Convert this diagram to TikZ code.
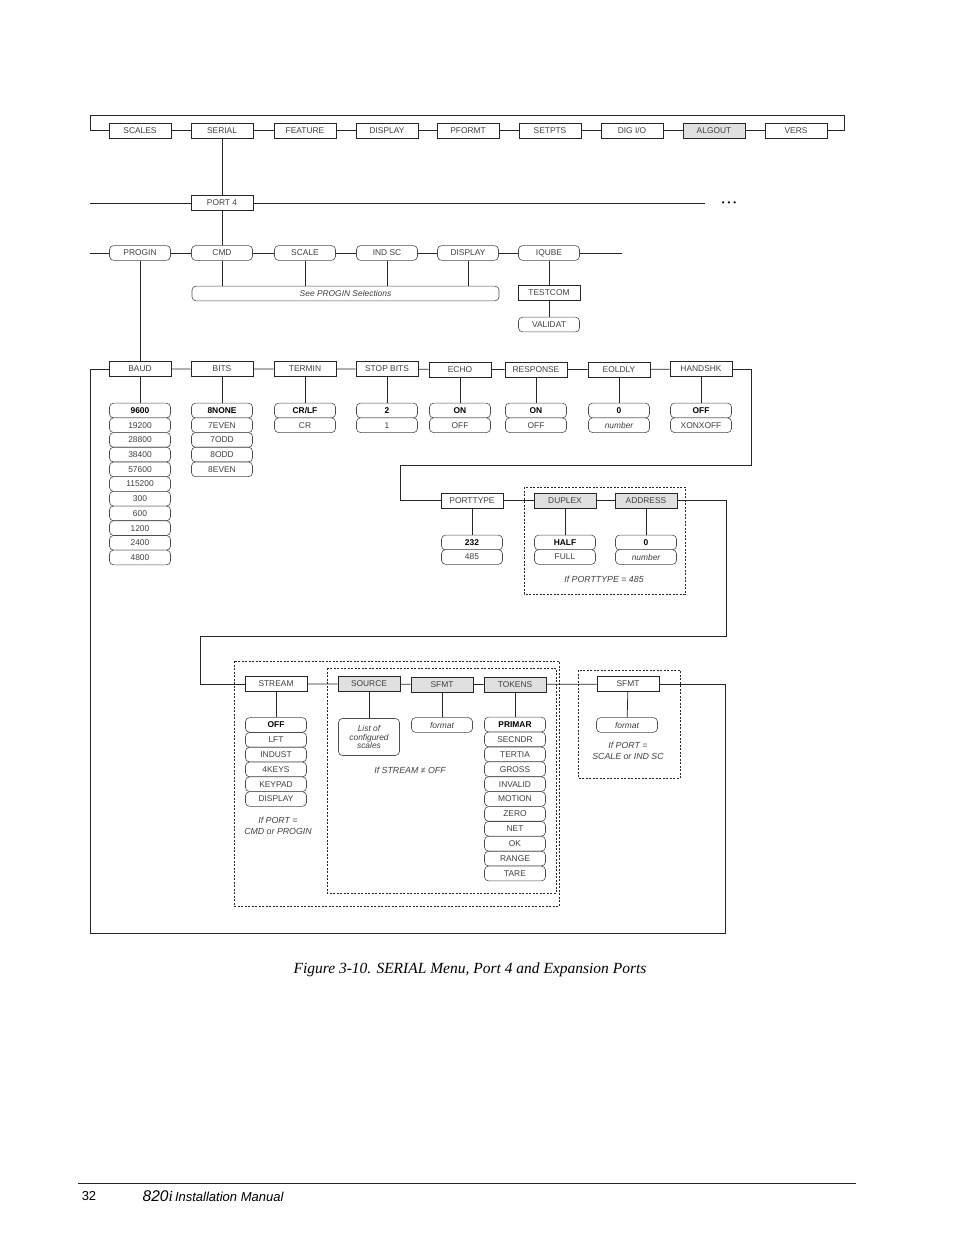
\documentclass[tikz,border=0pt]{standalone}
\usepackage{fontspec}
\setmainfont{Liberation Serif}
\setsansfont{Liberation Sans}
\usetikzlibrary{positioning}

\begin{document}
\begin{tikzpicture}[x=1pt,y=-1pt,
    every node/.style={font=\sffamily\fontsize{8.4}{9}\selectfont, text=black!75},
    menu/.style={draw=black!85, line width=0.75pt, fill=white, minimum width=62pt, minimum height=15pt, inner sep=0pt},
    menug/.style={menu, fill=black!12},
    sel/.style={draw=black!70, line width=0.6pt, fill=white, rounded corners=4pt, minimum width=61pt, minimum height=14.7pt, inner sep=0pt},
    first/.style={sel, font=\sffamily\bfseries\fontsize{8.4}{9}\selectfont, text=black},
    ital/.style={sel, font=\sffamily\itshape\fontsize{8.4}{9}\selectfont},
    note/.style={font=\sffamily\itshape\fontsize{8.8}{11.5}\selectfont, align=center},
    grp/.style={draw=black!85, line width=0.6pt, dash pattern=on 2pt off 1.5pt}]
    \useasboundingbox (0,0) rectangle (954,1235);
    \tikzset{every path/.style={draw=black!85, line width=0.75pt}}

    % Menu principal
    \node[menu] (scales) at (140,130.5) {SCALES};
    \node[menu] (serial) at (222,130.5) {SERIAL};
    \node[menu] (feature) at (305,130.5) {FEATURE};
    \node[menu] (display) at (387,130.5) {DISPLAY};
    \node[menu] (pformt) at (468,130.5) {PFORMT};
    \node[menu] (setpts) at (550,130.5) {SETPTS};
    \node[menu] (digio) at (632,130.5) {DIG I/O};
    \node[menug] (algout) at (714,130.5) {ALGOUT};
    \node[menu] (vers) at (796,130.5) {VERS};
    \coordinate (ftl) at (90,115);
    \coordinate (ftr) at (844,115);
    \draw (scales.west) -| (ftl) -- (ftr) |- (vers.east);
    \draw (scales) -- (serial) -- (feature) -- (display) -- (pformt) -- (setpts) -- (digio) -- (algout) -- (vers);

    % Puertos
    \node[menu] (port4) at (222,203) {PORT 4};
    \coordinate (pl) at (90,203);
    \coordinate (pr) at (705,203);
    \node[text=black] (more) at (729,203.5) {\fontsize{8}{8}\selectfont •\hspace{3pt}•\hspace{3pt}•};
    \draw (serial) -- (port4);
    \draw (pl) -- (port4) -- (pr);

    % Modos del puerto
    \node[sel] (progin) at (140,253) {PROGIN};
    \node[sel] (cmd) at (222,253) {CMD};
    \node[sel] (scale) at (305,253) {SCALE};
    \node[sel] (indsc) at (387,253) {IND SC};
    \node[sel] (dispsel) at (468,253) {DISPLAY};
    \node[sel] (iqube) at (549,253) {IQUBE};
    \node[ital, minimum width=307pt] (see) at (345.5,293.5) {See PROGIN Selections};
    \node[menu] (testcom) at (549,292.5) {TESTCOM};
    \node[sel] (validat) at (549,324.5) {VALIDAT};
    \coordinate (ml) at (90,253);
    \coordinate (mr) at (622,253);
    \draw (port4) -- (cmd);
    \draw (ml) -- (progin) -- (cmd) -- (scale) -- (indsc) -- (dispsel) -- (iqube) -- (mr);
    \foreach \n in {cmd,scale,indsc,dispsel}
        \draw (\n) -- (\n |- see.north);
    \draw (iqube) -- (testcom) -- (validat);

    % Parametros PROGIN
    \node[menu] (baud) at (140,369) {BAUD};
    \node[menu] (bits) at (222,369) {BITS};
    \node[menu] (termin) at (305,369) {TERMIN};
    \node[menu] (stopbits) at (387,369) {STOP BITS};
    \node[menu] (echo) at (460,369.5) {ECHO};
    \node[menu] (response) at (536,369.5) {RESPONSE};
    \node[menu] (eoldly) at (619,369.5) {EOLDLY};
    \node[menu] (handshk) at (701,369) {HANDSHK};
    \draw (progin) -- (baud);
    \draw (baud) -- (bits) -- (termin) -- (stopbits) -- (echo) -- (response) -- (eoldly) -- (handshk);

    % Valores
    \node[first] (baud1) at (140,410.5) {9600};
    \foreach \v [count=\i from 2] in {19200,28800,38400,57600,115200,300,600,1200,2400,4800}
        \node[sel] (baud\i) at (140,395.8+14.7*\i) {\v};
    \node[first] (bits1) at (222,410.5) {8NONE};
    \foreach \v [count=\i from 2] in {7EVEN,7ODD,8ODD,8EVEN}
        \node[sel] (bits\i) at (222,395.8+14.7*\i) {\v};
    \node[first] (termin1) at (305,410.5) {CR/LF};
    \node[sel] (termin2) at (305,425.2) {CR};
    \node[first] (stopbits1) at (387,410.5) {2};
    \node[sel] (stopbits2) at (387,425.2) {1};
    \node[first] (echo1) at (460,410.5) {ON};
    \node[sel] (echo2) at (460,425.2) {OFF};
    \node[first] (response1) at (536,410.5) {ON};
    \node[sel] (response2) at (536,425.2) {OFF};
    \node[first] (eoldly1) at (619,410.5) {0};
    \node[ital] (eoldly2) at (619,425.2) {number};
    \node[first] (handshk1) at (701,410.5) {OFF};
    \node[sel] (handshk2) at (701,425.2) {XONXOFF};
    \foreach \n in {baud,bits,termin,stopbits,echo,response,eoldly,handshk}
        \draw (\n) -- (\n1);

    % Tipo de puerto
    \node[menu] (porttype) at (472,500.5) {PORTTYPE};
    \node[menug] (duplex) at (565,500.5) {DUPLEX};
    \node[menug] (address) at (646,500.5) {ADDRESS};
    \node[first] (porttype1) at (472,542.5) {232};
    \node[sel] (porttype2) at (472,557) {485};
    \node[first] (duplex1) at (565,542.5) {HALF};
    \node[sel] (duplex2) at (565,557) {FULL};
    \node[first] (address1) at (646,542.5) {0};
    \node[ital] (address2) at (646,557) {number};
    \node[note] (if485) at (604,579) {If PORTTYPE = 485};
    \draw[grp] (524,487) rectangle (685,594);
    \coordinate (h1) at (751,465);
    \coordinate (h2) at (400,465);
    \draw (handshk.east) -| (h1) -- (h2) |- (porttype.west);
    \draw (porttype) -- (duplex) -- (address);
    \foreach \n in {porttype,duplex,address}
        \draw (\n) -- (\n1);

    % Salida continua
    \node[menu] (stream) at (276,684) {STREAM};
    \node[menug] (source) at (369,684) {SOURCE};
    \node[menug] (sfmt) at (442,684.5) {SFMT};
    \node[menug] (tokens) at (515,684.5) {TOKENS};
    \node[menu] (sfmtx) at (628,684) {SFMT};
    \coordinate (a1) at (726,500.5);
    \coordinate (a2) at (726,636);
    \coordinate (a3) at (200,636);
    \coordinate (a4) at (200,684);
    \draw (address.east) -- (a1) -- (a2) -- (a3) -- (a4) -- (stream.west);
    \draw (stream) -- (source) -- (sfmt) -- (tokens) -- (sfmtx);

    \node[first] (stream1) at (276,725) {OFF};
    \foreach \v [count=\i from 2] in {LFT,INDUST,4KEYS,KEYPAD,DISPLAY}
        \node[sel] (stream\i) at (276,710.2+14.8*\i) {\v};
    \node[ital, minimum height=37pt, align=center, font=\sffamily\itshape\fontsize{8.4}{8.6}\selectfont] (source1) at (369,737) {List of\\configured\\scales};
    \node[ital] (sfmt1) at (442,725) {format};
    \node[first] (tokens1) at (515,724.5) {PRIMAR};
    \foreach \v [count=\i from 2] in {SECNDR,TERTIA,GROSS,INVALID,MOTION,ZERO,NET,OK,RANGE,TARE}
        \node[sel] (tokens\i) at (515,709.6+14.9*\i) {\v};
    \node[ital] (sfmtx1) at (627,725) {format};
    \foreach \n in {stream,source,sfmt,tokens,sfmtx}
        \draw (\n) -- (\n1);
    \node[note] (ifcmd) at (278,826) {If PORT =\\CMD or PROGIN};
    \node[note] (ifstream) at (410,770) {If STREAM ≠ OFF};
    \node[note] (ifscale) at (628,751) {If PORT =\\SCALE or IND SC};
    \draw[grp] (234,661) rectangle (559,906);
    \draw[grp] (327,668) rectangle (556,893);
    \draw[grp] (578,670) rectangle (680,778);

    % Retorno
    \coordinate (lb) at (90,933);
    \coordinate (rb) at (725,933);
    \draw (baud.west) -| (lb) -- (rb) |- (sfmtx.east);

    % Pie
    \node[font=\rmfamily\itshape\fontsize{15.5}{18}\selectfont, text=black] (cap) at (470,970) {Figure 3-10. SERIAL Menu, Port 4 and Expansion Ports};
    \draw (78,1183) -- (856,1183);
    \node[font=\sffamily\fontsize{13}{15}\selectfont, text=black] (page) at (89,1196) {32};
    \node[anchor=west, font=\sffamily\itshape\fontsize{13}{15}\selectfont, text=black] (manual) at (139,1196) {{\fontsize{15.5}{15}\selectfont 820\rmfamily i}\,Installation Manual};
\end{tikzpicture}
\end{document}
